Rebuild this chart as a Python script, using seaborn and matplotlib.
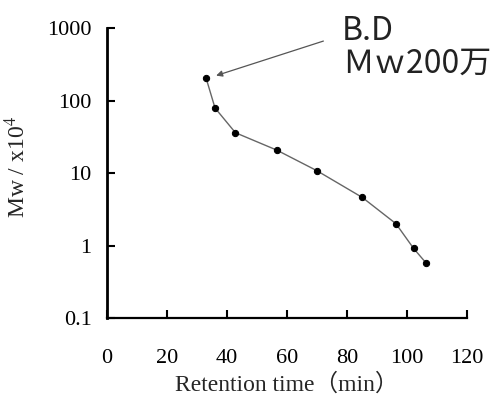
import matplotlib
matplotlib.use("Agg")
import matplotlib.pyplot as plt
import seaborn as sns
import pandas as pd

# values (retention time in min, Mw in units of 10^4)
retention_time = [33.0, 36.0, 42.8, 56.6, 69.9, 85.1, 96.3, 102.2, 106.4]
mw = [206, 79, 36, 20.7, 10.8, 4.6, 2.0, 0.91, 0.57]

x_ticks = [0, 20, 40, 60, 80, 100, 120]
y_ticks = [0.1, 1, 10, 100, 1000]
y_tick_labels = ["0.1", "1", "10", "100", "1000"]

df = pd.DataFrame({"time": retention_time, "mw": mw})

sns.set_style("ticks")
plt.rcParams["font.family"] = ["Liberation Serif", "Noto Sans CJK JP"]
plt.rcParams["mathtext.fontset"] = "stix"

fig = plt.figure(figsize=(4.99, 4.01), dpi=100)
ax = fig.add_axes([0.2144, 0.207, 0.7216, 0.723])

sns.lineplot(data=df, x="time", y="mw", ax=ax, color="#666666", linewidth=1.0,
             marker="o", markersize=4.5, markerfacecolor="black",
             markeredgecolor="black", sort=False)

ax.set_yscale("log")
ax.set_xlim(0, 120)
ax.set_ylim(0.1, 1000)
ax.set_xticks(x_ticks)
ax.set_xticklabels([str(t) for t in x_ticks])
ax.set_yticks(y_ticks)
ax.set_yticklabels(y_tick_labels)
ax.minorticks_off()

for side in ["top", "right"]:
    ax.spines[side].set_visible(False)
ax.spines["left"].set_linewidth(2.0)
ax.spines["bottom"].set_linewidth(1.6)
ax.spines["left"].set_color("black")
ax.spines["bottom"].set_color("black")

ax.tick_params(axis="x", direction="in", length=6, width=1.5, pad=22,
               labelsize=16, colors="black", bottom=True)
ax.tick_params(axis="y", direction="in", length=6, width=1.5, pad=11,
               labelsize=16, colors="black", left=True)

ax.set_xlabel("Retention time（min）", fontsize=17)
ax.set_ylabel("Mw / x10$^{4}$", fontsize=17)
ax.xaxis.set_label_coords(0.5, -0.19)
ax.yaxis.set_label_coords(-0.214, 0.52)

ax.annotate("", xy=(35.5, 215), xytext=(73, 680),
            arrowprops=dict(arrowstyle="-|>", color="#555555", lw=0.9,
                            mutation_scale=9))

fig.text(0.685, 0.963, "B.D", fontsize=23, va="top", ha="left",
         family=["Noto Sans CJK JP"], color="#222222")
fig.text(0.685, 0.88, "Ｍｗ200万", fontsize=23, va="top", ha="left",
         family=["Noto Sans CJK JP"], color="#222222")

fig.savefig("out.png", dpi=100, facecolor="white")
